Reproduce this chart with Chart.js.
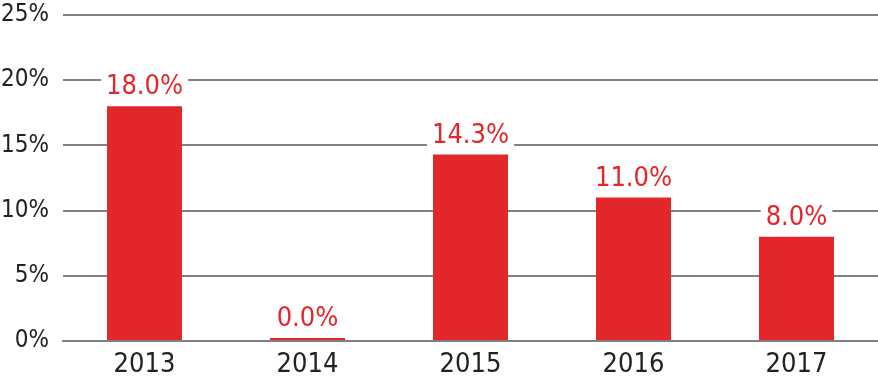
<!DOCTYPE html>
<html><head><meta charset="utf-8">
<script src="https://cdn.jsdelivr.net/npm/chart.js@4/dist/chart.umd.min.js"></script>
<style>html,body{margin:0;padding:0;background:#fff}#wrap{width:878px;height:390px;position:relative}</style>
</head><body><div id="wrap"><canvas id="c"></canvas></div>
<script>
const categories = ["2013","2014","2015","2016","2017"];
const values = [18.0, 0.0, 14.3, 11.0, 8.0];
const yTicks = [0,5,10,15,20,25];
const FONT = "'DejaVu Sans Condensed','DejaVu Sans',sans-serif";
const RED = "#e3262a";
const FS = 27;
const labelPlugin = {
  id:'vlabels',
  afterDatasetsDraw(chart){
    const ctx = chart.ctx;
    const meta = chart.getDatasetMeta(0);
    ctx.save();
    ctx.font = FS + "px " + FONT;
    ctx.textAlign = "center";
    ctx.textBaseline = "alphabetic";
    meta.data.forEach((bar,i)=>{
      const t = values[i].toFixed(1) + "%";
      const w = ctx.measureText(t).width;
      const yb = bar.y - 12;
      ctx.fillStyle = "#fff";
      ctx.fillRect(bar.x - w/2 - 5, yb - 24, w + 10, 28);
      ctx.fillStyle = RED;
      ctx.fillText(t, bar.x, yb);
    });
    ctx.restore();
  }
};
new Chart(document.getElementById('c'), {
  type:'bar',
  data:{labels:categories, datasets:[{data:values, backgroundColor:RED, barPercentage:0.92, categoryPercentage:0.5, minBarLength:3}]},
  options:{
    responsive:true, maintainAspectRatio:false, animation:false,
    layout:{padding:{top:15,right:0,left:0,bottom:0}},
    plugins:{legend:{display:false}, tooltip:{enabled:false}},
    scales:{
      x:{grid:{display:false, drawTicks:false}, border:{display:true,color:'#808080',width:2},
         afterFit(ax){ax.height = 49;},
         ticks:{color:'#222', font:{family:FONT,size:FS}, padding:8}},
      y:{min:0,max:25, afterBuildTicks(ax){ax.ticks = yTicks.map(v=>({value:v}));},
         afterFit(ax){ax.width = 63; ax.paddingTop = 0; ax.paddingBottom = 0;},
         grid:{color:'#808080', lineWidth:2, drawTicks:false}, border:{display:false},
         ticks:{color:'#222', font:{family:FONT,size:24}, padding:14, callback:v=>v+'%'}}
    }
  },
  plugins:[labelPlugin]
});
</script></body></html>
